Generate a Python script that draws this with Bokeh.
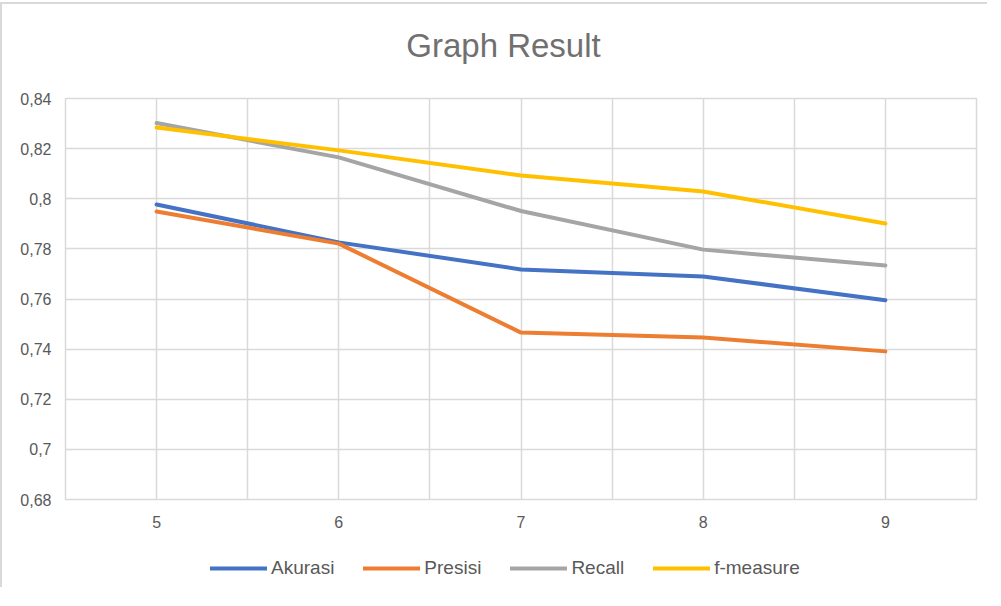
from bokeh.plotting import figure
from bokeh.layouts import column
from bokeh.models import FixedTicker, Legend, LegendItem, Label, Range1d
from bokeh.embed import file_html
from bokeh.resources import INLINE
import numpy as np

# ---- data ----
categories = [5, 6, 7, 8, 9]
akurasi = [0.7977, 0.7826, 0.7718, 0.7690, 0.7595]
presisi = [0.7949, 0.7821, 0.7466, 0.7446, 0.7391]
recall = [0.8302, 0.8165, 0.7951, 0.7797, 0.7734]
fmeasure = [0.8284, 0.8193, 0.8093, 0.8029, 0.7901]
series_names = ["Akurasi", "Presisi", "Recall", "f-measure"]
y_ticks = [0.68, 0.70, 0.72, 0.74, 0.76, 0.78, 0.80, 0.82, 0.84]
y_tick_labels = ["0,68", "0,7", "0,72", "0,74", "0,76", "0,78", "0,8", "0,82", "0,84"]
title_text = "Graph Result"

colors = ["#4472C4", "#ED7D31", "#A5A5A5", "#FFC000"]
text_color = "#595959"
grid_color = "#d9d9d9"
font = "Liberation Sans"
all_series = [akurasi, presisi, recall, fmeasure]

W = 985
BL, BR = 63, 11
FRAME_W = W - BL - BR


def strip(height, xr, yr):
    f = figure(width=W, height=height, output_backend="svg", toolbar_location=None,
               x_axis_location=None, y_axis_location=None, x_range=xr, y_range=yr,
               min_border_left=BL, min_border_right=BR, min_border_top=0, min_border_bottom=0)
    f.outline_line_color = None
    f.xgrid.visible = False
    f.ygrid.visible = False
    f.border_fill_color = "white"
    f.background_fill_color = "white"
    return f


# ---- title strip ----
top = strip(84, Range1d(0, FRAME_W), Range1d(0, 84))
top.add_layout(Label(x=438, y=43, text=title_text, text_align="center", text_baseline="middle",
                     text_font=font, text_font_size="33px", text_color="#707070"))

# ---- main chart ----
p = figure(width=W, height=449, output_backend="svg", toolbar_location=None,
           x_range=Range1d(4.5, 9.5), y_range=Range1d(0.68, 0.84),
           min_border_left=BL, min_border_right=BR, min_border_top=10, min_border_bottom=38)
p.outline_line_color = grid_color
p.outline_line_width = 1.5
p.background_fill_color = "white"
p.border_fill_color = "white"

p.xgrid.ticker = FixedTicker(ticks=list(np.arange(4.5, 9.51, 0.5)))
p.ygrid.ticker = FixedTicker(ticks=y_ticks)
for g in (p.xgrid, p.ygrid):
    g.grid_line_color = grid_color
    g.grid_line_width = 1.5

p.xaxis.ticker = FixedTicker(ticks=categories)
p.yaxis.ticker = FixedTicker(ticks=y_ticks)
p.yaxis.major_label_overrides = {t: l for t, l in zip(y_ticks, y_tick_labels)}
for ax in (p.xaxis, p.yaxis):
    ax.axis_line_color = None
    ax.major_tick_line_color = None
    ax.minor_tick_line_color = None
    ax.major_label_text_font = font
    ax.major_label_text_font_size = "16px"
    ax.major_label_text_color = text_color
p.yaxis.major_label_standoff = 8
p.xaxis.major_label_standoff = 10

for vals, c in zip(all_series, colors):
    p.line(categories, vals, line_color=c, line_width=4,
           line_cap="round", line_join="round")

# ---- legend strip: its ranges keep the series out of view, only the legend shows ----
leg = strip(50, Range1d(100, 101), Range1d(100, 101))
leg_renderers = [leg.line(categories, vals, line_color=c, line_width=4, line_cap="round")
                 for vals, c in zip(all_series, colors)]
legend = Legend(items=[LegendItem(label=n, renderers=[r]) for n, r in zip(series_names, leg_renderers)],
                orientation="horizontal", location=(145, 8),
                glyph_width=57, glyph_height=20, label_height=20,
                label_standoff=4, spacing=29, padding=0, margin=0,
                label_text_font=font, label_text_font_size="19px",
                label_text_color=text_color,
                background_fill_alpha=0, border_line_alpha=0)
leg.add_layout(legend, "center")

layout = column(top, p, leg, spacing=0)
layout.styles = {"border-left": "2px solid #d9d9d9", "border-top": "2px solid #d9d9d9",
                 "margin-top": "2px"}

open("out.html", "w").write(file_html(layout, INLINE))
